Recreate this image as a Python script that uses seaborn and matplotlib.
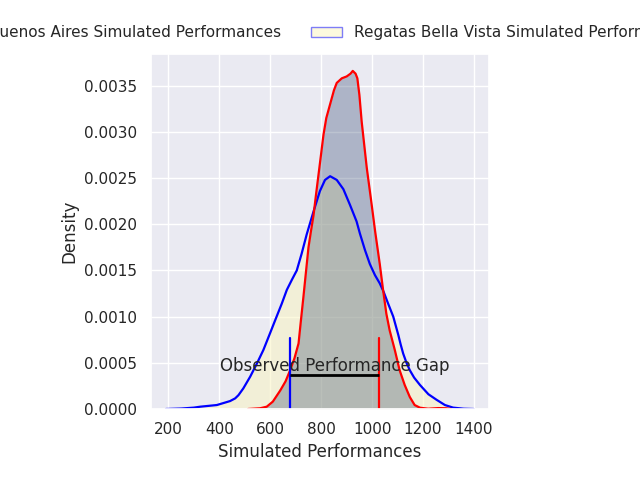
import matplotlib
matplotlib.use("Agg")
import matplotlib.pyplot as plt
from matplotlib.patches import Patch
import seaborn as sns
import pandas as pd

sns.set_theme(style="darkgrid", context="notebook")

# Buenos Aires density curve
ba_x = [190, 250, 300, 325, 390, 442, 462, 475, 494, 521, 547, 573, 599, 619, 645,
        665, 685, 704, 723, 743, 770, 795, 815, 835, 861, 887, 913, 939, 952, 972,
        991, 1011, 1030, 1045, 1063, 1083, 1093, 1103, 1112, 1122, 1135, 1148, 1165,
        1188, 1221, 1253, 1286, 1318, 1360, 1399]
ba_d = [0.0, 0.000005, 0.000015, 0.000025, 0.000043, 0.000086, 0.000115, 0.00015,
        0.000223, 0.00035, 0.00049, 0.00064, 0.00082, 0.00096, 0.00114, 0.00129,
        0.0014, 0.0015, 0.00168, 0.00189, 0.00214, 0.00236, 0.00248, 0.00252,
        0.00248, 0.00238, 0.00221, 0.00203, 0.0019, 0.00172, 0.00157, 0.00145,
        0.00136, 0.00127, 0.00114, 0.001, 0.0009, 0.0008, 0.0007, 0.0006, 0.0005,
        0.00042, 0.00034, 0.00026, 0.00016, 0.0001, 0.000043, 0.000015, 0.000003, 0.0]

# Regatas Bella Vista density curve
rbv_x = [513, 560, 586, 610, 639, 660, 678, 695, 711, 720, 730, 740, 750, 760, 770,
         780, 790, 800, 809, 820, 835, 850, 861, 881, 900, 915, 924, 935, 942, 950,
         959, 979, 995, 1012, 1030, 1043, 1056, 1069, 1089, 1108, 1128, 1148, 1167,
         1188, 1220, 1260, 1290, 1310]
rbv_d = [0.0, 0.000008, 0.000025, 0.00008, 0.0002, 0.0003, 0.00042, 0.00055,
         0.00071, 0.00095, 0.00121, 0.00148, 0.00175, 0.00193, 0.0021, 0.00233,
         0.00255, 0.00277, 0.00297, 0.00315, 0.0033, 0.00345, 0.00353, 0.00358,
         0.0036, 0.00363, 0.00366, 0.00363, 0.00358, 0.0034, 0.00311, 0.00261,
         0.00228, 0.00192, 0.00157, 0.00129, 0.00103, 0.00085, 0.00064, 0.00042,
         0.00026, 0.00013, 0.000043, 0.000014, 0.000003, 0.00001, 0.000008, 0.0]

# Observed values and annotation
obs_ba = 678
obs_rbv = 1026
gap_y = 0.00037
gap_label = "Observed Performance Gap"
labels = ["Buenos Aires Simulated Performances",
          "Regatas Bella Vista Simulated Performances"]
xlabel = "Simulated Performances"
ylabel = "Density"

yellow = (250/255, 245/255, 190/255)
slate = (34/255, 57/255, 102/255)

df_ba = pd.DataFrame({"x": ba_x, "d": ba_d})
df_rbv = pd.DataFrame({"x": rbv_x, "d": rbv_d})

fig = plt.figure(figsize=(6.4, 4.8), dpi=100)
ax = fig.add_axes([0.2352, 0.1479, 0.529, 0.7396])

ax.fill_between(df_ba["x"], df_ba["d"], 0, color=yellow, alpha=0.5, linewidth=0)
ax.fill_between(df_rbv["x"], df_rbv["d"], 0, color=slate, alpha=0.3, linewidth=0)
sns.lineplot(data=df_ba, x="x", y="d", color="blue", linewidth=1.6, ax=ax)
sns.lineplot(data=df_rbv, x="x", y="d", color="red", linewidth=1.6, ax=ax)

ax.axvline(obs_ba, ymax=0.2, color="blue", linewidth=1.6)
ax.axvline(obs_rbv, ymax=0.2, color="red", linewidth=1.6)
ax.hlines(gap_y, obs_ba, obs_rbv, color="black", linewidth=2)
ax.text((obs_ba + obs_rbv) / 2, gap_y, gap_label, ha="center", va="bottom", fontsize=12)

ax.set_ylim(0, max(rbv_d) * 1.05)
ax.set_xlabel(xlabel)
ax.set_ylabel(ylabel)

handles = [Patch(facecolor=(*slate, 0.3), edgecolor="red"),
           Patch(facecolor=(*yellow, 0.5), edgecolor=(0, 0, 1, 0.5))]
ax.legend(handles, labels, loc="lower center", bbox_to_anchor=(0.5, 1.0),
          ncol=2, frameon=False, fontsize=11)

fig.savefig("out.png", dpi=100)
